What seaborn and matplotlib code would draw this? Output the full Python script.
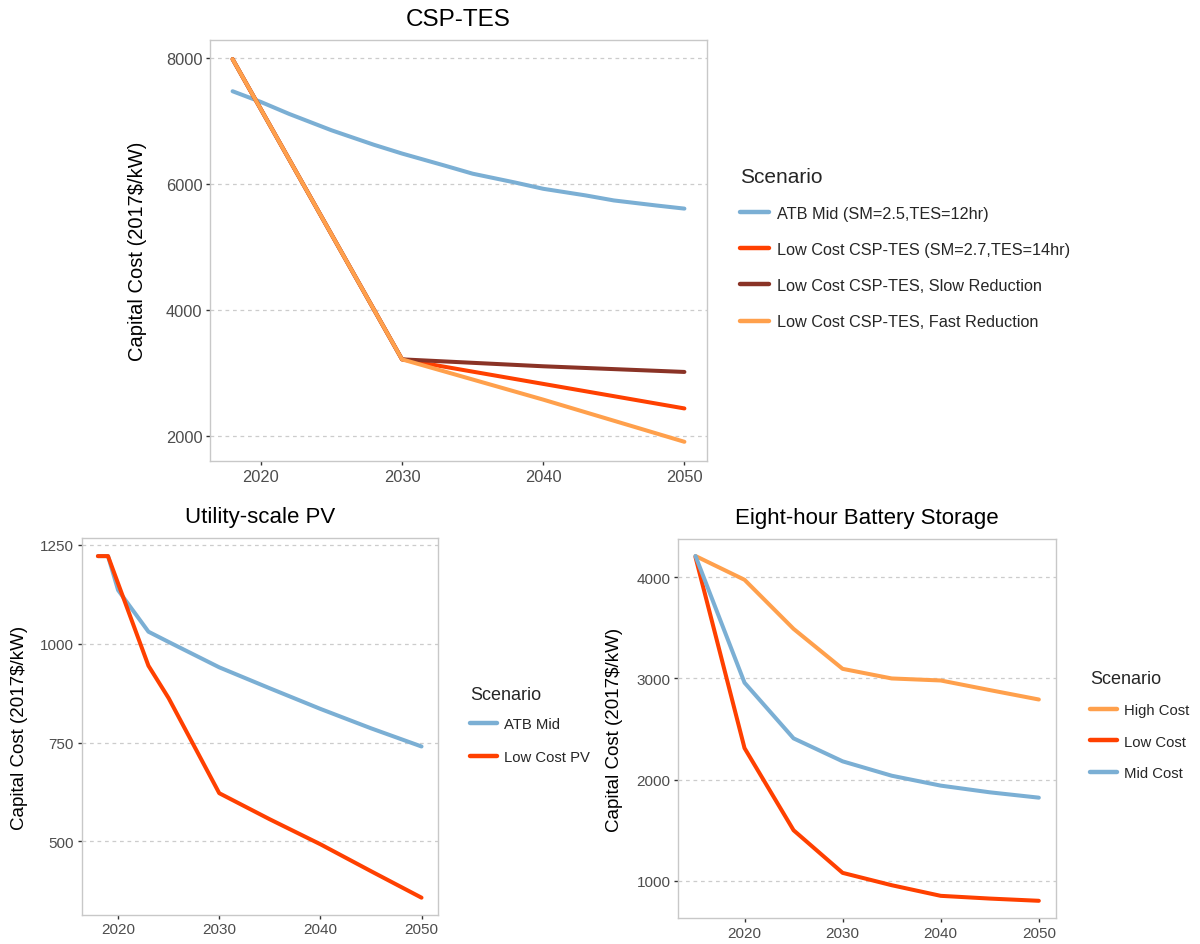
import matplotlib
matplotlib.use("Agg")
import matplotlib.pyplot as plt
import seaborn as sns
import pandas as pd

# ---------------- data ----------------
csp_atb_years = [2018, 2020, 2022, 2025, 2028, 2030, 2033, 2035, 2038, 2040, 2043, 2045, 2048, 2050]
csp_atb = [7470, 7300, 7110, 6850, 6620, 6480, 6290, 6160, 6020, 5920, 5815, 5735, 5655, 5605]
csp_low_years = [2018, 2030, 2040, 2050]
csp_low = [7980, 3210, 2820, 2430]
csp_slow = [7980, 3210, 3100, 3010]
csp_fast = [7980, 3210, 2570, 1900]
csp_labels = ["ATB Mid (SM=2.5,TES=12hr)", "Low Cost CSP-TES (SM=2.7,TES=14hr)",
              "Low Cost CSP-TES, Slow Reduction", "Low Cost CSP-TES, Fast Reduction"]

pv_atb_years = [2018, 2019, 2020, 2023, 2025, 2030, 2035, 2040, 2045, 2050]
pv_atb = [1221, 1221, 1135, 1030, 1004, 940, 887, 835, 786, 740]
pv_low_years = [2018, 2019, 2023, 2025, 2030, 2035, 2040, 2045, 2050]
pv_low = [1221, 1221, 944, 862, 622, 556, 493, 425, 358]
pv_labels = ["ATB Mid", "Low Cost PV"]

bat_years = [2015, 2020, 2025, 2030, 2035, 2040, 2045, 2050]
bat_high = [4210, 3975, 3490, 3095, 3000, 2980, 2885, 2792]
bat_low = [4200, 2312, 1500, 1079, 957, 852, 825, 803]
bat_mid = [4210, 2958, 2408, 2181, 2039, 1941, 1875, 1822]
bat_labels = ["High Cost", "Low Cost", "Mid Cost"]

csp_ticks = [2000, 4000, 6000, 8000]
pv_ticks = [500, 750, 1000, 1250]
bat_ticks = [1000, 2000, 3000, 4000]
x_ticks = [2020, 2030, 2040, 2050]

BLUE = "#7BAFD4"
RED = "#FF4000"
BROWN = "#8A3326"
ORANGE = "#FFA04C"


def long(pairs):
    frames = []
    for lab, yrs, vals in pairs:
        frames.append(pd.DataFrame({"Year": yrs, "Cost": vals, "Scenario": lab}))
    return pd.concat(frames, ignore_index=True)


csp_df = long([(csp_labels[0], csp_atb_years, csp_atb),
               (csp_labels[1], csp_low_years, csp_low),
               (csp_labels[2], csp_low_years, csp_slow),
               (csp_labels[3], csp_low_years, csp_fast)])
pv_df = long([(pv_labels[0], pv_atb_years, pv_atb),
              (pv_labels[1], pv_low_years, pv_low)])
bat_df = long([(bat_labels[0], bat_years, bat_high),
               (bat_labels[1], bat_years, bat_low),
               (bat_labels[2], bat_years, bat_mid)])

# ---------------- style ----------------
sns.set_theme(style="white")
plt.rcParams["font.family"] = ["Liberation Sans", "DejaVu Sans"]

W, H = 1200, 945
fig = plt.figure(figsize=(W / 100, H / 100), dpi=100)


def px_axes(l, t, r, b):
    return fig.add_axes([l / W, 1 - b / H, (r - l) / W, (b - t) / H])


def style_axes(ax, yticks, ylim, xlim, title, tsize, tpad, lsize, lx, ticksize):
    ax.set_xlim(*xlim)
    ax.set_ylim(*ylim)
    ax.set_xticks(x_ticks)
    ax.set_yticks(yticks)
    ax.set_xlabel("")
    ax.set_ylabel("Capital Cost (2017$/kW)", fontsize=lsize, color="black")
    ax.yaxis.set_label_coords(lx, 0.5)
    ax.set_title(title, fontsize=tsize, pad=tpad, color="black")
    ax.grid(False)
    ax.yaxis.grid(True, linestyle=(0, (3, 3)), color="#CCCCCC", linewidth=0.9)
    ax.set_axisbelow(True)
    for s in ax.spines.values():
        s.set_color("#C8C8C8")
        s.set_linewidth(1.0)
    ax.tick_params(axis="both", which="major", length=3, width=1, color="#333333",
                   labelcolor="#4D4D4D", labelsize=ticksize, pad=2.5,
                   bottom=True, left=True)


def style_legend(ax, loc_xy, title_size, label_size, spacing, handlelen, title_sep):
    leg = ax.legend(loc="upper left", bbox_to_anchor=(loc_xy[0] / W, 1 - loc_xy[1] / H),
                    bbox_transform=fig.transFigure, frameon=False,
                    title="Scenario", title_fontsize=title_size, fontsize=label_size,
                    handlelength=handlelen, handletextpad=0.5, labelspacing=spacing,
                    borderpad=0, borderaxespad=0)
    leg._legend_box.align = "left"
    leg._legend_box.sep = title_sep
    for line in leg.get_lines():
        line.set_linewidth(3.2)
    return leg


LW = 2.9

# ---- CSP-TES ----
ax1 = px_axes(210, 41, 707, 462)
sns.lineplot(data=csp_df, x="Year", y="Cost", hue="Scenario", hue_order=csp_labels,
             palette=[BLUE, RED, BROWN, ORANGE], linewidth=LW, estimator=None, ax=ax1)
style_axes(ax1, csp_ticks, (1595, 8284), (2016.4, 2051.6), "CSP-TES", 17.5, 10.5, 14.5, -0.127, 11.8)
style_legend(ax1, (740, 168), 15, 11.7, 1.3, 1.8, 14.3)

# ---- PV ----
ax2 = px_axes(81.7, 539.3, 437.7, 915.7)
sns.lineplot(data=pv_df, x="Year", y="Cost", hue="Scenario", hue_order=pv_labels,
             palette=[BLUE, RED], linewidth=LW, estimator=None, ax=ax2)
style_axes(ax2, pv_ticks, (315, 1266), (2016.4, 2051.6), "Utility-scale PV", 16, 11.5, 13.5, -0.150, 11)
style_legend(ax2, (470, 687), 13, 10.7, 1.27, 1.8, 10.0)

# ---- Battery ----
ax3 = px_axes(678.3, 540, 1056, 919)
sns.lineplot(data=bat_df, x="Year", y="Cost", hue="Scenario", hue_order=bat_labels,
             palette=[ORANGE, RED, BLUE], linewidth=LW, estimator=None, ax=ax3)
style_axes(ax3, bat_ticks, (633, 4378), (2013.25, 2051.75), "Eight-hour Battery Storage", 16, 11.5, 13.5, -0.146, 11)
style_legend(ax3, (1090, 671), 13, 10.7, 1.2, 1.8, 11.4)

fig.savefig("out.png", dpi=100, facecolor="white")
